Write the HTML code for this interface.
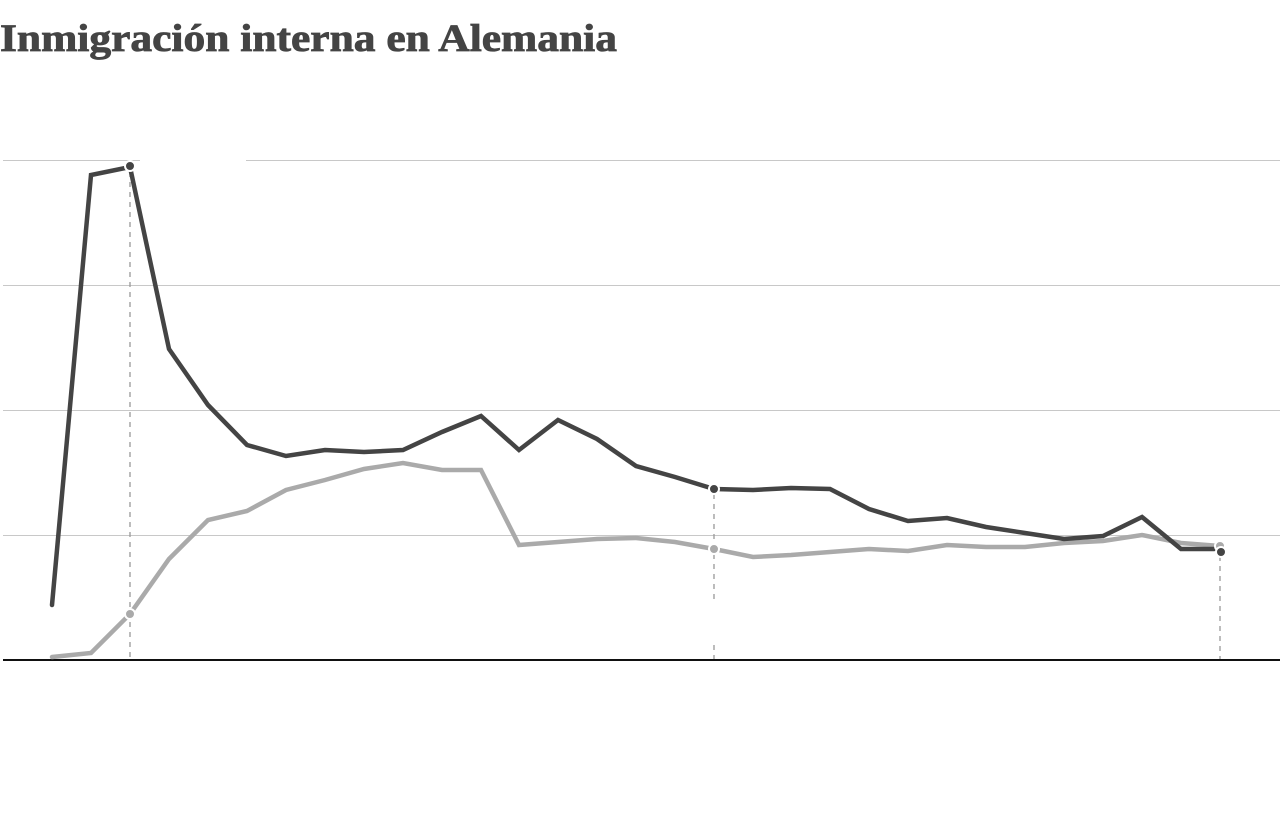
<!DOCTYPE html>
<html>
<head>
<meta charset="utf-8">
<style>
  html, body { margin: 0; padding: 0; background: #fff; }
  body { width: 1280px; height: 826px; overflow: hidden; }
  svg { display: block; }
</style>
</head>
<body>
<svg width="1280" height="826" viewBox="0 0 1280 826" xmlns="http://www.w3.org/2000/svg">
  <rect x="0" y="0" width="1280" height="826" fill="#fff"/>
  <text x="0" y="51" font-family="'Liberation Serif', serif" font-weight="bold" font-size="39" fill="#444" stroke="#444" stroke-width="0.8" textLength="617" lengthAdjust="spacingAndGlyphs">Inmigración interna en Alemania</text>

  <!-- gridlines -->
  <g stroke="#c8c8c8" stroke-width="1">
    <line x1="3" y1="160.5" x2="140" y2="160.5"/>
    <line x1="246" y1="160.5" x2="1280" y2="160.5"/>
    <line x1="3" y1="285.5" x2="1280" y2="285.5"/>
    <line x1="3" y1="410.5" x2="1280" y2="410.5"/>
    <line x1="3" y1="535.5" x2="1280" y2="535.5"/>
  </g>

  <!-- dashed markers -->
  <g stroke="#999999" stroke-width="1.3" stroke-dasharray="5,5" fill="none">
    <line x1="130" y1="172" x2="130" y2="660"/>
    <line x1="714" y1="494" x2="714" y2="600"/>
    <line x1="714" y1="645" x2="714" y2="660"/>
    <line x1="1220" y1="556" x2="1220" y2="660"/>
  </g>

  <!-- baseline -->
  <line x1="3" y1="660" x2="1280" y2="660" stroke="#111" stroke-width="2"/>

  <!-- light series -->
  <polyline fill="none" stroke="#aaaaaa" stroke-width="4.5" stroke-linejoin="miter" stroke-linecap="round"
    points="52,657 91,653 130,614 169,559 208,520 247,511 286,490 325,480 364,469 403,463 442,470 481,470 519,545 558,542 597,539 636,538 675,542 714,549 753,557 791,555 830,552 869,549 908,551 947,545 986,547 1025,547 1064,543 1103,541 1142,535 1181,543 1220,546"/>

  <!-- dark series -->
  <polyline fill="none" stroke="#444444" stroke-width="4.5" stroke-linejoin="miter" stroke-linecap="round"
    points="52,605 91,175 130,167 169,349 208,405 247,445 286,456 325,450 364,452 403,450 442,432 481,416 519,450 558,420 597,439 636,466 675,477 714,489 753,490 791,488 830,489 869,509 908,521 947,518 986,527 1025,533 1064,539 1103,536 1142,517 1181,549 1214,549"/>

  <!-- light dots -->
  <circle cx="130" cy="614" r="5" fill="#aaaaaa" stroke="#fff" stroke-width="2"/>
  <circle cx="714" cy="549" r="5" fill="#aaaaaa" stroke="#fff" stroke-width="2"/>
  <circle cx="1220" cy="546" r="5" fill="#aaaaaa" stroke="#fff" stroke-width="2"/>

  <!-- dark dots -->
  <circle cx="130" cy="166" r="5" fill="#444444" stroke="#fff" stroke-width="2"/>
  <circle cx="714" cy="489" r="5" fill="#444444" stroke="#fff" stroke-width="2"/>
  <circle cx="1221" cy="552" r="5" fill="#444444" stroke="#fff" stroke-width="2"/>
</svg>
</body>
</html>
